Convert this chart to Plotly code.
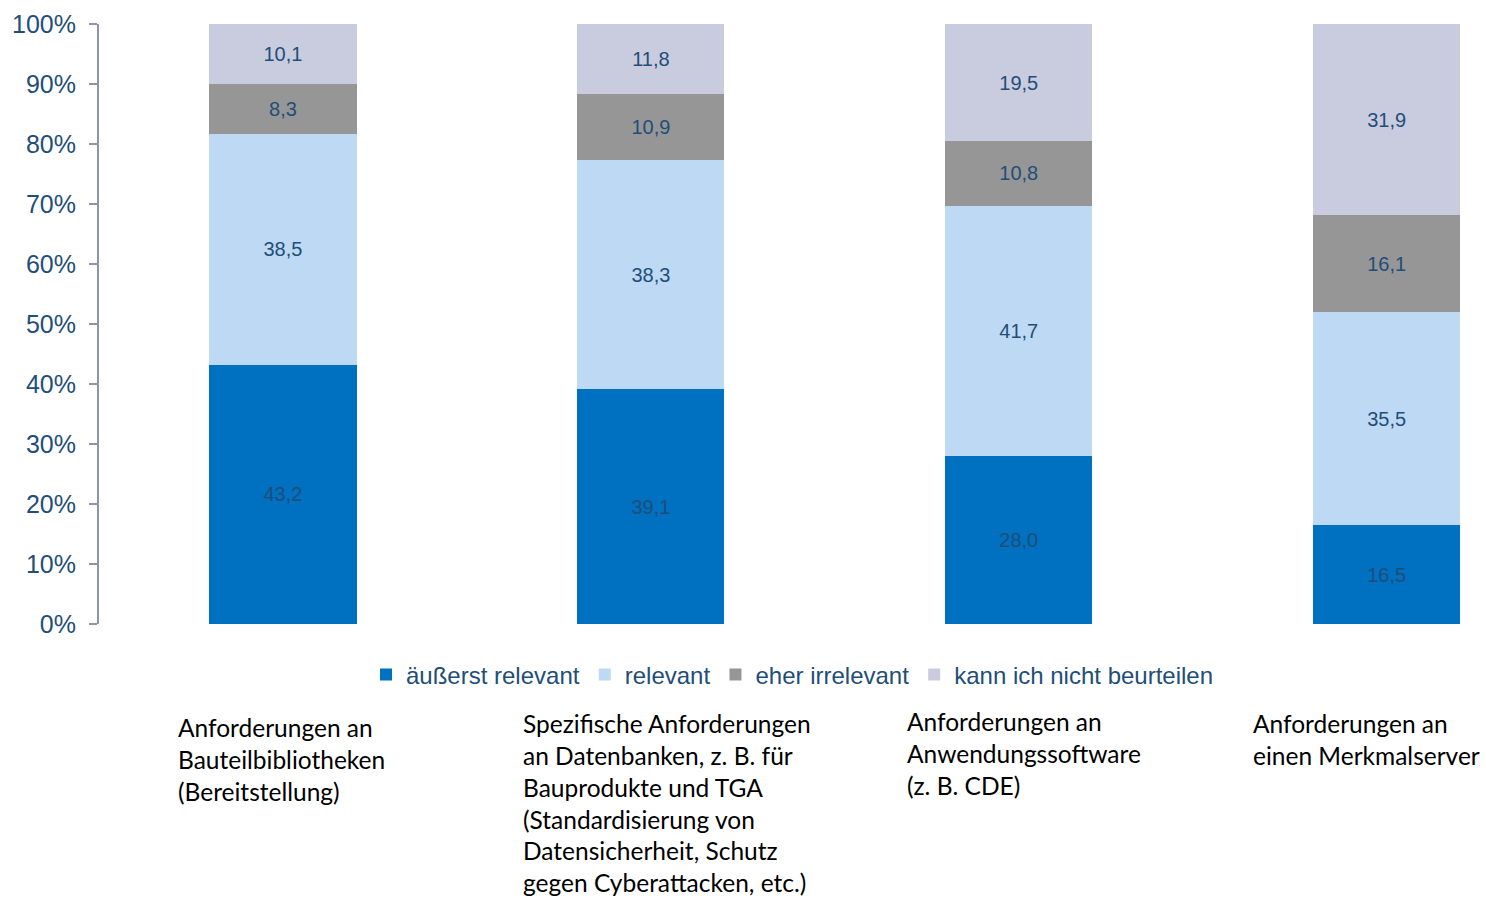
import plotly.graph_objects as go

# Categories (label text, wrapped as shown under the chart)
categories = [
    "Anforderungen an<br>Bauteilbibliotheken<br>(Bereitstellung)",
    "Spezifische Anforderungen<br>an Datenbanken, z. B. für<br>Bauprodukte und TGA<br>(Standardisierung von<br>Datensicherheit, Schutz<br>gegen Cyberattacken, etc.)",
    "Anforderungen an<br>Anwendungssoftware<br>(z. B. CDE)",
    "Anforderungen an<br>einen Merkmalserver",
]
positions = [0, 1, 2, 3]

# Shares in percent per answer
aeusserst_relevant = [43.2, 39.1, 28.0, 16.5]
relevant = [38.5, 38.3, 41.7, 35.5]
eher_irrelevant = [8.3, 10.9, 10.8, 16.1]
nicht_beurteilbar = [10.1, 11.8, 19.5, 31.9]

series = [
    ("äußerst relevant", aeusserst_relevant, "#0070C0"),
    ("relevant", relevant, "#BDD9F3"),
    ("eher irrelevant", eher_irrelevant, "#969696"),
    ("kann ich nicht beurteilen", nicht_beurteilbar, "#C9CCDE"),
]

y_ticks = list(range(0, 101, 10))
y_tick_labels = [f"{v}%" for v in y_ticks]

text_color = "#1F4E79"
axis_color = "#8E95A5"

fig = go.Figure()
for name, values, color in series:
    fig.add_trace(go.Bar(
        x=positions,
        y=values,
        name=name,
        marker=dict(color=color, line=dict(width=0)),
        width=0.4,
        texttemplate="%{y:.1f}",
        textposition="inside",
        insidetextanchor="middle",
        textangle=0,
        textfont=dict(family="Arial, Liberation Sans", size=20, color=text_color),
        constraintext="none",
    ))

# Category labels below the legend, left-aligned
label_x = [-0.29, 0.648, 1.692, 2.632]
label_y = [711, 707, 705, 707]
for lx, ly, lbl in zip(label_x, label_y, categories):
    fig.add_annotation(
        x=lx, xref="x", xanchor="left",
        y=(624 - ly) / 600, yref="paper", yanchor="top",
        text=lbl, showarrow=False, align="left",
        font=dict(family="Lato", size=24.5, color="#000000"),
    )

fig.update_layout(
    barmode="stack",
    separators=",.",
    width=1486, height=898,
    margin=dict(l=99, r=0, t=24, b=274),
    paper_bgcolor="white",
    plot_bgcolor="white",
    showlegend=True,
    legend=dict(
        orientation="h",
        x=0.5, xanchor="center",
        y=(624 - 675) / 600, yanchor="middle",
        font=dict(family="Arial, Liberation Sans", size=24, color=text_color),
        traceorder="normal",
    ),
    xaxis=dict(
        range=[-0.5, 3.27],
        showticklabels=False,
        showline=False,
        showgrid=False,
        zeroline=False,
        ticks="",
    ),
    yaxis=dict(
        range=[0, 100],
        tickmode="array",
        tickvals=y_ticks,
        ticktext=y_tick_labels,
        showline=True,
        linecolor=axis_color,
        linewidth=2,
        ticks="outside",
        ticklen=8,
        tickwidth=2,
        tickcolor=axis_color,
        ticklabelstandoff=8,
        showgrid=False,
        zeroline=False,
        tickfont=dict(family="Arial, Liberation Sans", size=25, color=text_color),
    ),
)

fig.write_html("out.html")
